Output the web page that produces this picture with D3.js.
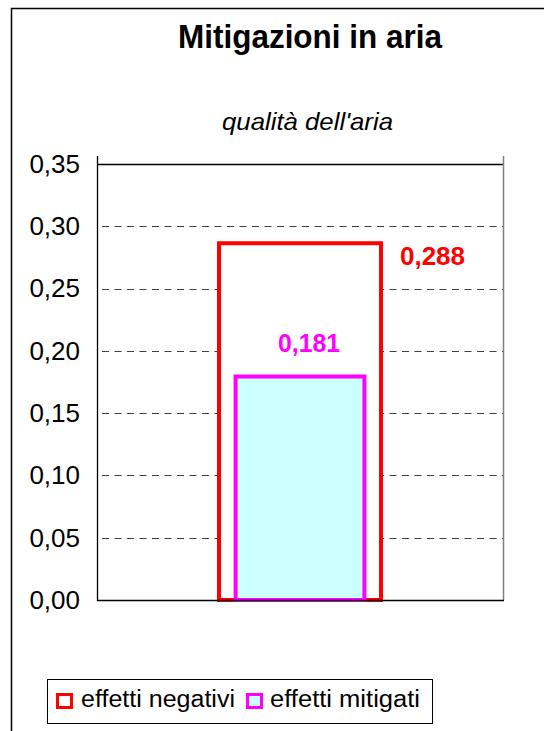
<!DOCTYPE html>
<html><head><meta charset="utf-8">
<script src="https://cdn.jsdelivr.net/npm/d3@7"></script>
<style>body{margin:0;background:#fff}svg{display:block}text{font-family:"Liberation Sans",Arial,sans-serif}</style>
</head><body>
<svg id="c" width="544" height="731"></svg>
<script>
const title = "Mitigazioni in aria";
const subtitle = "qualità dell'aria";
const categories = [""];
const negativeValues = [0.288];
const mitigatedValues = [0.181];
const seriesNames = ["effetti negativi", "effetti mitigati"];
const yTicks = [0, 0.05, 0.10, 0.15, 0.20, 0.25, 0.30, 0.35];
const valueLabels = ["0,288", "0,181"];

const svg = d3.select("#c");
const L = 97, R = 503, T = 164, B = 600;

// outer chart border (extends beyond the window)
svg.append("rect").attr("x", 11.5).attr("y", 8.5).attr("width", 700).attr("height", 900)
  .attr("fill", "#fff").attr("stroke", "#000").attr("stroke-width", 1.5);

svg.append("text").attr("x", 178).attr("y", 48)
  .attr("font-size", 33).attr("font-weight", "bold")
  .attr("textLength", 264).attr("lengthAdjust", "spacingAndGlyphs").text(title);
svg.append("text").attr("x", 222).attr("y", 130)
  .attr("font-size", 24).attr("font-style", "italic")
  .attr("textLength", 171).attr("lengthAdjust", "spacingAndGlyphs").text(subtitle);

const y = d3.scaleLinear().domain([0, 0.35]).range([B, T]);
const x = d3.scaleBand().domain(categories).range([L, R]).paddingInner(0).paddingOuter(0.723);

const fmt = d => d3.format(".2f")(d).replace(".", ",");

// gridlines
svg.append("g").selectAll("line").data(yTicks.filter(d => d > 0 && d < 0.35)).join("line")
  .attr("x1", L).attr("x2", R).attr("y1", d => Math.round(y(d)) + 0.5).attr("y2", d => Math.round(y(d)) + 0.5)
  .attr("stroke", "#404040").attr("stroke-width", 1.2)
  .attr("stroke-dasharray", "7,5.5").attr("stroke-dashoffset", -5);
// top line
svg.append("line").attr("x1", L).attr("x2", R).attr("y1", y(0.35) + 0.5).attr("y2", y(0.35) + 0.5)
  .attr("stroke", "#000").attr("stroke-width", 1.3);
// right border line
svg.append("line").attr("x1", R + 0.5).attr("x2", R + 0.5).attr("y1", T - 8).attr("y2", B)
  .attr("stroke", "#808080").attr("stroke-width", 1.5);

// y axis
const yAxis = d3.axisLeft(y).tickValues(yTicks).tickFormat(fmt).tickSize(0).tickPadding(17);
const gy = svg.append("g").attr("transform", `translate(${L},0)`).call(yAxis);
gy.select(".domain").remove();
gy.selectAll("text").attr("font-size", 26).attr("fill", "#000").attr("font-family", "Liberation Sans, Arial, sans-serif");
svg.append("line").attr("x1", L + 0.5).attr("x2", L + 0.5).attr("y1", T - 8).attr("y2", B + 1)
  .attr("stroke", "#000").attr("stroke-width", 1.3);

// bars
const sw = 4;
const bw = x.bandwidth();
svg.append("g").selectAll("rect").data(categories).join("rect")
  .attr("x", d => x(d) + sw / 2).attr("width", bw - sw)
  .attr("y", (d, i) => y(negativeValues[i]) + sw / 2)
  .attr("height", (d, i) => y(0) - y(negativeValues[i]) - sw / 2)
  .attr("fill", "#fff").attr("stroke", "#ff0000").attr("stroke-width", sw);
const mw = bw * 0.8;
svg.append("g").selectAll("rect").data(categories).join("rect")
  .attr("x", d => x(d) + (bw - mw) / 2 + sw / 2).attr("width", mw - sw)
  .attr("y", (d, i) => y(mitigatedValues[i]) + sw / 2)
  .attr("height", (d, i) => y(0) - y(mitigatedValues[i]) - sw / 2)
  .attr("fill", "#ccffff").attr("stroke", "#ff00ff").attr("stroke-width", sw);

// x axis
svg.append("line").attr("x1", L).attr("x2", R + 1).attr("y1", B + 0.5).attr("y2", B + 0.5)
  .attr("stroke", "#000").attr("stroke-width", 1.3);

// value labels
svg.append("text").attr("x", x(categories[0]) + bw + 17).attr("y", y(negativeValues[0]) + 24)
  .attr("font-size", 25).attr("font-weight", "bold").attr("fill", "#ff0000")
  .attr("textLength", 65).attr("lengthAdjust", "spacingAndGlyphs")
  .text(valueLabels[0]);
svg.append("text").attr("x", x(categories[0]) + bw / 2 - 22).attr("y", y(mitigatedValues[0]) - 23)
  .attr("font-size", 25).attr("font-weight", "bold").attr("fill", "#ff00ff")
  .attr("textLength", 62).attr("lengthAdjust", "spacingAndGlyphs")
  .text(valueLabels[1]);

// legend
svg.append("rect").attr("x", 47.5).attr("y", 679.5).attr("width", 385).attr("height", 44)
  .attr("fill", "#fff").attr("stroke", "#000").attr("stroke-width", 1);
const leg = [
  {name: seriesNames[0], sx: 56, tx: 81, len: 154, stroke: "#ff0000", fill: "#fff"},
  {name: seriesNames[1], sx: 246, tx: 270, len: 150, stroke: "#ff00ff", fill: "#ccffff"}
];
svg.append("g").selectAll("rect").data(leg).join("rect")
  .attr("x", d => d.sx + 1.5).attr("y", 694.5).attr("width", 14).attr("height", 13)
  .attr("fill", d => d.fill).attr("stroke", d => d.stroke).attr("stroke-width", 3);
svg.append("g").selectAll("text").data(leg).join("text")
  .attr("x", d => d.tx).attr("y", 707).attr("font-size", 23)
  .attr("textLength", d => d.len).attr("lengthAdjust", "spacingAndGlyphs")
  .text(d => d.name);
</script>
</body></html>
